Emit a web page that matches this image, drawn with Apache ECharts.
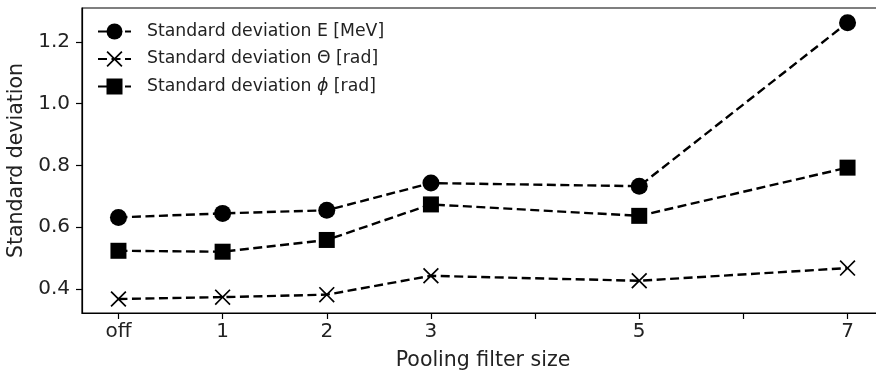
<!DOCTYPE html>
<html>
<head>
<meta charset="utf-8">
<script src="https://cdn.jsdelivr.net/npm/echarts@6/dist/echarts.min.js"></script>
<style>
  html, body { margin: 0; padding: 0; background: #fff; }
  #chart { width: 876px; height: 374px; }
</style>
</head>
<body>
<div id="chart"></div>
<script>
// pooling filter sizes (0 = off) and their tick labels
var poolSizes = [0, 1, 2, 3, 5, 7];
var poolLabels = ['off', '1', '2', '3', '5', '7'];
var xTicks = [0, 1, 2, 3, 4, 5, 6, 7];
var yTicks = [0.4, 0.6, 0.8, 1.0, 1.2];

// standard deviations
var stdEnergy = [0.632, 0.645, 0.655, 0.743, 0.733, 1.262];
var stdTheta = [0.368, 0.374, 0.382, 0.443, 0.427, 0.468];
var stdPhi = [0.524, 0.521, 0.559, 0.674, 0.637, 0.793];

var seriesNames = ['Standard deviation E [MeV]', 'Standard deviation \u0398 [rad]', 'Standard deviation \u03d5 [rad]'];

var FONT = 'DejaVu Sans';
var TXT = '#222';

// filled "x" marker
var crossPath = 'path://M0,7.5 L7.5,0 L50,42.5 L92.5,0 L100,7.5 L57.5,50 L100,92.5 L92.5,100 L50,57.5 L7.5,100 L0,92.5 L42.5,50 Z';

function pairs(vals) {
    return poolSizes.map(function (x, i) { return [x, vals[i]]; });
}

function makeSeries(name, vals, symbol, size) {
    return {
        name: name,
        type: 'line',
        data: pairs(vals),
        symbol: symbol,
        symbolSize: size,
        showAllSymbol: true,
        itemStyle: { color: '#000' },
        lineStyle: { color: '#000', width: 2.4, type: [9, 4.5] },
        emphasis: { disabled: true },
        z: 3
    };
}

var chart = echarts.init(document.getElementById('chart'), null, { renderer: 'canvas' });

var option = {
    animation: false,
    backgroundColor: '#fff',
    textStyle: { fontFamily: FONT },
    grid: {
        left: 82,
        top: 8,
        width: 802,
        bottom: 61,
        outerBoundsMode: 'none',
        containLabel: false,
        show: true,
        borderColor: '#000',
        borderWidth: 1.2,
        backgroundColor: 'transparent'
    },
    legend: {
        orient: 'vertical',
        left: 97,
        top: 23,
        padding: 0,
        itemWidth: 33,
        itemHeight: 20,
        itemGap: 10.5,
        data: seriesNames,
        formatter: function (name) {
            if (name.indexOf('\u03d5') >= 0) {
                return '{n|Standard deviation }{i|\u03d5}{n| [rad]}';
            }
            return '{n|' + name + '}';
        },
        textStyle: {
            fontFamily: FONT,
            fontSize: 17.3,
            color: TXT,
            padding: [0, 0, 0, 11],
            rich: {
                n: { fontFamily: FONT, fontSize: 17.3, color: TXT },
                i: { fontFamily: FONT, fontSize: 17.3, color: TXT, fontStyle: 'italic' }
            }
        }
    },
    xAxis: {
        type: 'value',
        min: -0.35,
        max: 7.35,
        name: 'Pooling filter size',
        nameLocation: 'middle',
        nameGap: 37,
        nameTextStyle: { fontFamily: FONT, fontSize: 20.5, color: TXT },
        axisLine: { onZero: false, lineStyle: { color: '#000', width: 1.2 } },
        axisTick: { show: true, length: 6, customValues: xTicks, lineStyle: { color: '#000', width: 1.2 } },
        axisLabel: {
            customValues: poolSizes,
            margin: 9,
            fontFamily: FONT,
            fontSize: 20,
            color: TXT,
            formatter: function (v) {
                var i = poolSizes.indexOf(v);
                return i >= 0 ? poolLabels[i] : '';
            }
        },
        splitLine: { show: false }
    },
    yAxis: {
        type: 'value',
        min: 0.3227,
        max: 1.3095,
        name: 'Standard deviation',
        nameLocation: 'middle',
        nameGap: 50,
        nameTextStyle: { fontFamily: FONT, fontSize: 20.5, color: TXT },
        axisLine: { show: true, onZero: false, lineStyle: { color: '#000', width: 1.2 } },
        axisTick: { show: true, length: 6, customValues: yTicks, lineStyle: { color: '#000', width: 1.2 } },
        axisLabel: {
            customValues: yTicks,
            margin: 12,
            fontFamily: FONT,
            fontSize: 20,
            color: TXT,
            formatter: function (v) { return v.toFixed(1); }
        },
        splitLine: { show: false }
    },
    series: [
        makeSeries(seriesNames[0], stdEnergy, 'circle', 17),
        makeSeries(seriesNames[1], stdTheta, crossPath, 16),
        makeSeries(seriesNames[2], stdPhi, 'rect', 16)
    ]
};

chart.setOption(option);
</script>
</body>
</html>
